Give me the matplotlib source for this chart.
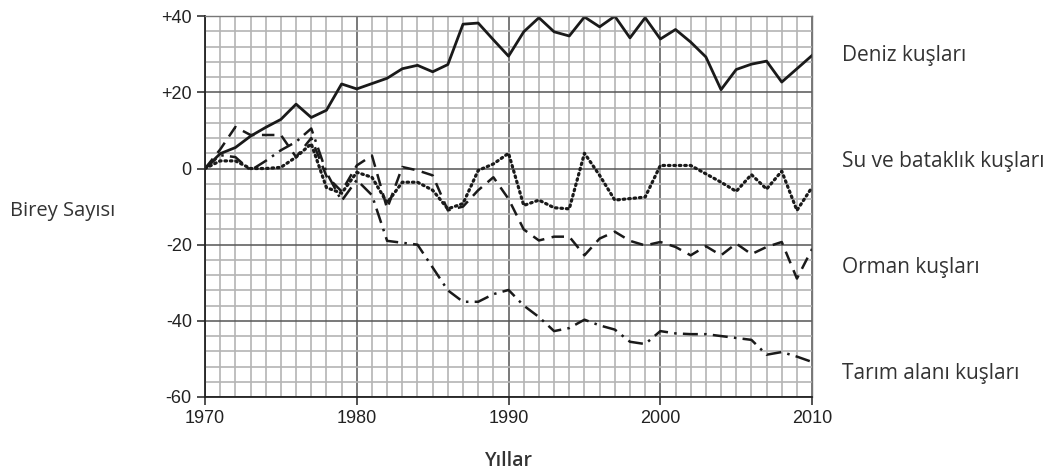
import matplotlib
matplotlib.use("Agg")
import matplotlib.pyplot as plt
from matplotlib.ticker import MultipleLocator

years = list(range(1970, 2011))

# Deniz kuşları (solid)
deniz = [0, 3.9, 5.5, 8.5, 10.8, 12.9, 16.9, 13.4, 15.3, 22.2,
         20.9, 22.3, 23.7, 26.2, 27.1, 25.4, 27.3, 37.9, 38.2, 33.8,
         29.5, 35.9, 39.6, 35.9, 34.8, 39.8, 37.2, 40.0, 34.3, 39.6,
         34.0, 36.5, 33.2, 29.3, 20.7, 26.0, 27.4, 28.2, 22.7, 26.2,
         29.7]

# Su ve bataklık kuşları (dotted)
su = [0, 2.0, 2.0, 0.0, 0.0, 0.3, 3.0, 6.5, -5.0, -6.5,
      -1.0, -2.3, -9.0, -3.6, -3.6, -5.7, -10.6, -9.2, -0.5, 1.2,
      4.0, -9.7, -8.3, -10.3, -10.6, 4.0, -1.8, -8.3, -7.9, -7.5,
      0.8, 0.8, 0.8, -1.4, -3.6, -6.0, -1.6, -5.4, -0.7, -11.0,
      -4.9]

# Orman kuşları (dashed)
orman = [0, 5.0, 10.9, 8.8, 8.8, 8.8, 3.0, 8.0, -2.0, -6.0,
         0.8, 3.4, -10.5, 0.4, -0.5, -1.8, -11.0, -10.0, -5.7, -2.3,
         -8.0, -16.0, -18.9, -17.9, -17.9, -22.8, -18.4, -16.6, -19.0, -20.2,
         -19.3, -20.6, -22.8, -20.4, -22.8, -19.7, -22.5, -20.6, -19.3, -28.9,
         -21.1]

# Tarım alanı kuşları (dash-dot)
tarim = [0, 3.5, 3.0, -0.5, 2.0, 4.8, 7.0, 10.5, -1.0, -8.5,
         -3.0, -7.0, -19.0, -19.5, -20.0, -26.0, -32.0, -35.0, -35.0, -33.0,
         -31.9, -36.0, -39.0, -42.7, -41.9, -39.7, -41.2, -42.3, -45.5, -46.1,
         -42.7, -43.3, -43.5, -43.5, -44.0, -44.5, -45.0, -48.9, -48.2, -49.4,
         -50.8]

labels = ["Deniz kuşları", "Su ve bataklık kuşları", "Orman kuşları", "Tarım alanı kuşları"]
y_ticks = [40, 20, 0, -20, -40, -60]
y_tick_labels = ["+40", "+20", "0", "-20", "-40", "-60"]
x_ticks = [1970, 1980, 1990, 2000, 2010]

plt.rcParams["font.family"] = ["Liberation Sans", "DejaVu Sans"]
label_font = ["Open Sans", "DejaVu Sans"]

fig = plt.figure(figsize=(10.54, 4.76), dpi=100)
ax = fig.add_axes([0.1945, 0.166, 0.576, 0.800])

ax.set_xlim(1970, 2010)
ax.set_ylim(-60, 40)
ax.xaxis.set_minor_locator(MultipleLocator(1))
ax.yaxis.set_minor_locator(MultipleLocator(4))
ax.set_xticks(x_ticks)
ax.set_yticks(y_ticks)
ax.set_yticklabels(y_tick_labels)
ax.grid(which="minor", color="#b4b4b4", linewidth=1.2)
ax.grid(which="major", color="#555555", linewidth=1.1)
ax.set_axisbelow(True)
ax.tick_params(which="minor", length=0)
ax.tick_params(which="major", length=6, width=1.2, labelsize=13, color="#333333",
               labelcolor="#222222")

for side in ["top", "right"]:
    ax.spines[side].set_color("#777777")
    ax.spines[side].set_linewidth(1.0)
for side in ["left", "bottom"]:
    ax.spines[side].set_color("#222222")
    ax.spines[side].set_linewidth(1.3)

lw = 1.8
ax.plot(years, deniz, color="#1a1a1a", linewidth=2.0, linestyle="-")
ax.plot(years, su, color="#1a1a1a", linewidth=2.3, linestyle=(0, (0.5, 1.2)),
        dash_capstyle="round")
ax.plot(years, orman, color="#1a1a1a", linewidth=lw, linestyle=(0, (5, 3)))
ax.plot(years, tarim, color="#1a1a1a", linewidth=lw, linestyle=(0, (6, 2.5, 1, 2.5)))

# series names on the right
label_y = [55, 162, 268, 373]
for name, py in zip(labels, label_y):
    fig.text(842 / 1054, 1 - py / 476, name, fontsize=15, color="#333333",
             family=label_font, va="center", ha="left")

fig.text(10 / 1054, 1 - 211 / 476, "Birey Sayısı", fontsize=14.5, color="#333333",
         family=label_font, va="center", ha="left")
fig.text(509 / 1054, 1 - 461 / 476, "Yıllar", fontsize=14, color="#333333",
         family=label_font, weight="semibold", va="center", ha="center")

fig.savefig("out.png", dpi=100, facecolor="white")
